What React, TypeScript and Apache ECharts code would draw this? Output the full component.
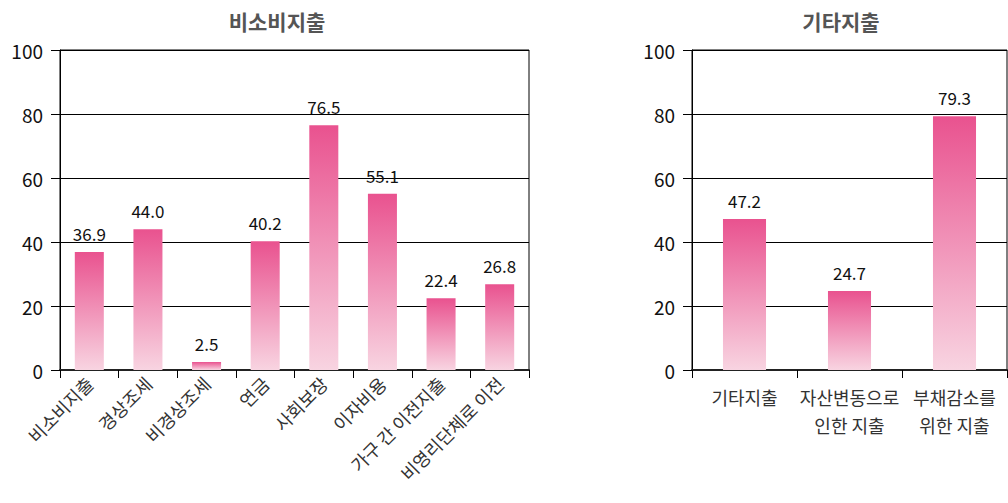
import React, { useEffect, useRef } from "react";
import * as echarts from "echarts";

const leftTitle = "비소비지출";
const rightTitle = "기타지출";
const leftCategories = ["비소비지출", "경상조세", "비경상조세", "연금", "사회보장", "이자비용", "가구 간 이전지출", "비영리단체로 이전"];
const leftValues = [36.9, 44.0, 2.5, 40.2, 76.5, 55.1, 22.4, 26.8];
const rightCategories = ["기타지출", "자산변동으로\n인한 지출", "부채감소를\n위한 지출"];
const rightValues = [47.2, 24.7, 79.3];
const yTicks = [0, 20, 40, 60, 80, 100];

const FONT = "'Noto Sans CJK KR', 'Noto Sans', sans-serif";

export default function App() {
  const ref = useRef<HTMLDivElement>(null);
  useEffect(() => {
    const chart = echarts.init(ref.current!, null, { renderer: "svg" });
    const grad = new echarts.graphic.LinearGradient(0, 0, 0, 1, [
      { offset: 0, color: "#e9528f" },
      { offset: 1, color: "#f8d4e1" },
    ]);
    const yAxisBase = (gridIndex: number) => ({
      type: "value" as const,
      gridIndex,
      min: yTicks[0],
      max: yTicks[yTicks.length - 1],
      interval: 20,
      axisLine: { show: true, lineStyle: { color: "#000", width: 1 } },
      axisTick: { show: true, length: 9, lineStyle: { color: "#000" } },
      axisLabel: { color: "#111", fontSize: 19, fontFamily: FONT, margin: 17 },
      splitLine: { show: true, lineStyle: { color: "#000", width: 1 } },
    });
    const xAxisBase = (gridIndex: number, data: string[], rotate: number, fontSize: number, margin: number) => ({
      type: "category" as const,
      gridIndex,
      data,
      axisLine: { show: true, lineStyle: { color: "#222", width: 2 } },
      axisTick: { show: true, length: 8, lineStyle: { color: "#000", width: 1 } },
      axisLabel: {
        color: "#333",
        fontSize,
        fontFamily: FONT,
        rotate,
        margin,
        interval: 0,
        lineHeight: 28,
      },
    });
    const labelOpt = {
      show: true,
      position: "top" as const,
      distance: 10,
      color: "#111",
      fontSize: 17,
      fontFamily: FONT,
      formatter: (p: any) => Number(p.value).toFixed(1),
    };
    chart.setOption({
      animation: false,
      backgroundColor: "#fff",
      title: [
        {
          text: leftTitle,
          left: 272,
          top: 5,
          textAlign: "center",
          textStyle: { color: "#555", fontSize: 21, fontWeight: "bold", fontFamily: FONT },
        },
        {
          text: rightTitle,
          left: 836,
          top: 5,
          textAlign: "center",
          textStyle: { color: "#555", fontSize: 21, fontWeight: "bold", fontFamily: FONT },
        },
      ],
      grid: [
        { left: 60, top: 50, width: 469, height: 320, show: true, borderColor: "#000", borderWidth: 1 },
        { left: 692, top: 50, width: 315, height: 320, show: true, borderColor: "#000", borderWidth: 1 },
      ],
      xAxis: [
        xAxisBase(0, leftCategories, 45, 18, 10),
        xAxisBase(1, rightCategories, 0, 18, 13),
      ],
      yAxis: [yAxisBase(0), yAxisBase(1)],
      series: [
        {
          type: "bar",
          xAxisIndex: 0,
          yAxisIndex: 0,
          data: leftValues,
          barWidth: "49.5%",
          itemStyle: { color: grad },
          label: labelOpt,
        },
        {
          type: "bar",
          xAxisIndex: 1,
          yAxisIndex: 1,
          data: rightValues,
          barWidth: "41%",
          itemStyle: { color: grad },
          label: labelOpt,
        },
      ],
    });
    return () => chart.dispose();
  }, []);
  return (
    <div
      ref={ref}
      style={{ position: "fixed", left: 0, top: 0, width: 1008, height: 503, background: "#fff" }}
    />
  );
}
